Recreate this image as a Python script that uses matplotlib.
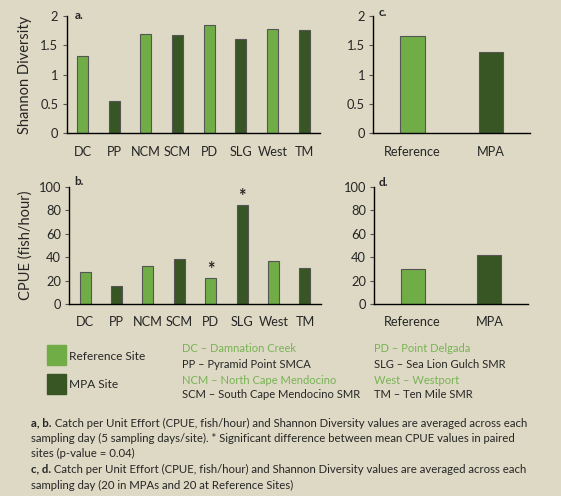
import matplotlib
matplotlib.use("Agg")
import matplotlib.pyplot as plt
from matplotlib.patches import Rectangle

plt.rcParams["font.family"] = ["Lato", "DejaVu Sans"]

COLOR_BG = "#DDD9C4"
LIGHT = "#70AD47"
DARK = "#375623"
TEXT = "#262626"

sites = ["DC", "PP", "NCM", "SCM", "PD", "SLG", "West", "TM"]
site_is_mpa = [False, True, False, True, False, True, False, True]
shannon_site = [1.31, 0.55, 1.70, 1.67, 1.84, 1.60, 1.78, 1.76]
cpue_site = [27.5, 15, 32.5, 38.5, 22.5, 84.5, 37, 31]
cpue_signif = ["PD", "SLG"]

groups = ["Reference", "MPA"]
shannon_group = [1.66, 1.39]
cpue_group = [30, 42]

site_names = [
    ("DC \u2013 Damnation Creek", False),
    ("PP \u2013 Pyramid Point SMCA", True),
    ("NCM \u2013 North Cape Mendocino", False),
    ("SCM \u2013 South Cape Mendocino SMR", True),
    ("PD \u2013 Point Delgada", False),
    ("SLG \u2013 Sea Lion Gulch SMR", True),
    ("West \u2013 Westport", False),
    ("TM \u2013 Ten Mile SMR", True),
]

W, H = 561, 496
fig = plt.figure(figsize=(W / 100, H / 100), dpi=100, facecolor=COLOR_BG)


def px_axes(x0, x1, ytop, ybot):
    return fig.add_axes([x0 / W, (H - ybot) / H, (x1 - x0) / W, (ybot - ytop) / H])


def style(ax, ymax, step):
    ax.set_facecolor(COLOR_BG)
    for s in ["top", "right"]:
        ax.spines[s].set_visible(False)
    for s in ["left", "bottom"]:
        ax.spines[s].set_color("black")
        ax.spines[s].set_linewidth(1.0)
    ax.set_ylim(0, ymax)
    ax.set_yticks([i * step for i in range(int(round(ymax / step)) + 1)])
    ax.tick_params(axis="y", length=3, width=0.8, color="#555555", labelsize=9.3,
                   labelcolor=TEXT, pad=3)
    ax.tick_params(axis="x", length=0, labelsize=9.2, labelcolor=TEXT, pad=9)


def bars(ax, labels, values, is_mpa, width):
    x = list(range(len(labels)))
    cols = [DARK if m else LIGHT for m in is_mpa]
    ax.bar(x, values, width=width, color=cols, edgecolor="#555555", linewidth=0.8)
    ax.set_xticks(x)
    ax.set_xticklabels(labels)
    ax.set_xlim(-0.5, len(labels) - 0.5)


fmt_dec = lambda v, p: f"{v:g}"

# a. Shannon by site
ax_a = px_axes(66.7, 320, 16, 133.3)
bars(ax_a, sites, shannon_site, site_is_mpa, 0.35)
style(ax_a, 2, 0.5)
ax_a.yaxis.set_major_formatter(matplotlib.ticker.FuncFormatter(fmt_dec))
ax_a.set_ylabel("Shannon Diversity", fontsize=10.5, color=TEXT, labelpad=6)
ax_a.text(0.03, 1.05, "a.", transform=ax_a.transAxes, fontsize=8.5, fontweight="bold",
          color=TEXT, va="top")

# c. Shannon by group
ax_c = px_axes(373.3, 530, 16, 133.3)
bars(ax_c, groups, shannon_group, [False, True], 0.31)
style(ax_c, 2, 0.5)
ax_c.yaxis.set_major_formatter(matplotlib.ticker.FuncFormatter(fmt_dec))
ax_c.text(0.035, 1.08, "c.", transform=ax_c.transAxes, fontsize=8.5, fontweight="bold",
          color=TEXT, va="top")

# b. CPUE by site
ax_b = px_axes(69.3, 320.7, 186.7, 304)
bars(ax_b, sites, cpue_site, site_is_mpa, 0.35)
style(ax_b, 100, 20)
ax_b.set_ylabel("CPUE (fish/hour)", fontsize=10.5, color=TEXT, labelpad=4)
ax_b.text(0.02, 1.09, "b.", transform=ax_b.transAxes, fontsize=8.5, fontweight="bold",
          color=TEXT, va="top")
for name in cpue_signif:
    i = sites.index(name)
    ax_b.annotate("*", (i, cpue_site[i]), xytext=(0, 0), textcoords="offset points",
                  ha="center", va="bottom", fontsize=13, fontweight="bold", color=TEXT)

# d. CPUE by group
ax_d = px_axes(374.3, 527.7, 186.7, 304)
bars(ax_d, groups, cpue_group, [False, True], 0.31)
style(ax_d, 100, 20)
ax_d.text(0.03, 1.08, "d.", transform=ax_d.transAxes, fontsize=8.5, fontweight="bold",
          color=TEXT, va="top")

# legend squares
for y0, col, lab in [(345, LIGHT, "Reference Site"), (374, DARK, "MPA Site")]:
    fig.patches.append(Rectangle((47 / W, (H - y0 - 20) / H), 19 / W, 20 / H,
                                 transform=fig.transFigure, color=col))
    fig.text(69 / W, 1 - (y0 + 11) / H, lab, fontsize=8.6, color=TEXT, va="center")

# site name list
ys = [349, 364, 380, 394]
for k, (txt, mpa) in enumerate(site_names):
    col_x = 182 if k < 4 else 374
    fig.text(col_x / W, 1 - ys[k % 4] / H, txt, fontsize=8.0,
             color=TEXT if mpa else "#78B354", va="center")

# footnote
notes = [
    [("a, b.", True), (" Catch per Unit Effort (CPUE, fish/hour) and Shannon Diversity values are averaged across each", False)],
    [("sampling day (5 sampling days/site). * Significant difference between mean CPUE values in paired", False)],
    [("sites (p-value = 0.04)", False)],
    [("c, d.", True), (" Catch per Unit Effort (CPUE, fish/hour) and Shannon Diversity values are averaged across each", False)],
    [("sampling day (20 in MPAs and 20 at Reference Sites)", False)],
]
note_y = [423, 438, 453, 469, 485]
renderer = fig.canvas.get_renderer()
for parts, y in zip(notes, note_y):
    x = 31 / W
    for txt, bold in parts:
        t = fig.text(x, 1 - y / H, txt, fontsize=8.2, color=TEXT, va="center",
                     fontweight="bold" if bold else "normal")
        bb = t.get_window_extent(renderer=renderer)
        x += bb.width / W

fig.savefig("out.png", dpi=100, facecolor=COLOR_BG)
